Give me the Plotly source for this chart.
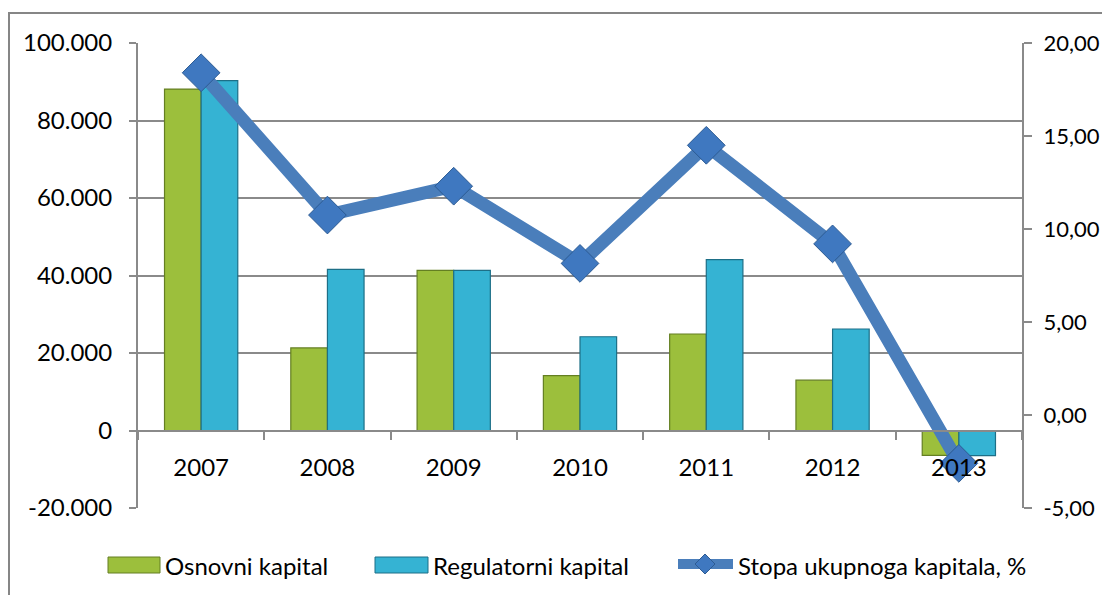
import plotly.graph_objects as go

years = ["2007", "2008", "2009", "2010", "2011", "2012", "2013"]
osnovni = [88100, 21300, 41300, 14150, 24900, 13000, -6400]
regulatorni = [90300, 41600, 41300, 24200, 44100, 26200, -6500]
stopa = [18.4, 10.75, 12.3, 8.15, 14.5, 9.2, -2.6]

left_ticks = [-20000, 0, 20000, 40000, 60000, 80000, 100000]
right_ticks = [-5, 0, 5, 10, 15, 20]

names = ["Osnovni kapital", "Regulatorni kapital", "Stopa ukupnoga kapitala, %"]


def fmt_left(v):
    s = f"{abs(v):,}".replace(",", ".")
    return ("-" if v < 0 else "") + s


def fmt_right(v):
    s = f"{abs(v):.2f}".replace(".", ",")
    return ("-" if v < 0 else "") + s


FONT = "Lato"
FS = 24
GRID = "#8a8a8a"
GREEN, GREEN_EDGE = "#9cbf3c", "#647f22"
CYAN, CYAN_EDGE = "#35b3d3", "#1d6f87"
BLUE, BLUE_MK, BLUE_EDGE = "#4a7ebb", "#3f78c0", "#2c5b93"

# plot area in page pixels (page has 8px body offset)
PX0, PX1, PY_TOP, PY_BOT = 138, 1022, 43, 508


def px(x):
    return (x - PX0) / (PX1 - PX0)


def py(y):
    return (PY_BOT - y) / (PY_BOT - PY_TOP)


fig = go.Figure()
fig.add_trace(go.Bar(
    x=years, y=osnovni, name=names[0],
    marker=dict(color=GREEN, line=dict(color=GREEN_EDGE, width=1.2)),
    yaxis="y",
))
fig.add_trace(go.Bar(
    x=years, y=regulatorni, name=names[1],
    marker=dict(color=CYAN, line=dict(color=CYAN_EDGE, width=1.2)),
    yaxis="y",
))
fig.add_trace(go.Scatter(
    x=years, y=stopa, name=names[2],
    mode="lines+markers",
    line=dict(color=BLUE, width=13),
    marker=dict(symbol="diamond", size=29, color=BLUE_MK,
                line=dict(color=BLUE_EDGE, width=1)),
    yaxis="y2",
))

# custom legend (wide swatches like the original)
LY = 565
shapes = [
    dict(type="rect", xref="paper", yref="paper",
         x0=px(9), x1=px(1125), y0=py(620), y1=py(13),
         line=dict(color="#868686", width=2), fillcolor="rgba(0,0,0,0)", layer="below"),
    dict(type="rect", xref="paper", yref="paper",
         x0=px(108), x1=px(160), y0=py(LY + 8), y1=py(LY - 8),
         line=dict(color=GREEN_EDGE, width=1), fillcolor=GREEN),
    dict(type="rect", xref="paper", yref="paper",
         x0=px(375), x1=px(428), y0=py(LY + 8), y1=py(LY - 8),
         line=dict(color=CYAN_EDGE, width=1), fillcolor=CYAN),
    dict(type="line", xref="paper", yref="paper",
         x0=px(678), x1=px(733), y0=py(LY - 1), y1=py(LY - 1),
         line=dict(color=BLUE, width=10)),
    dict(type="path", xref="paper", yref="paper",
         path=(f"M {px(695)},{py(LY - 1)} L {px(705)},{py(LY - 11)} "
               f"L {px(715)},{py(LY - 1)} L {px(705)},{py(LY + 9)} Z"),
         line=dict(color=BLUE_EDGE, width=1), fillcolor=BLUE_MK),
]
annotations = [
    dict(text=names[0], xref="paper", yref="paper", x=px(163), y=py(LY),
         xanchor="left", yanchor="middle", showarrow=False,
         font=dict(family=FONT, size=FS, color="#000")),
    dict(text=names[1], xref="paper", yref="paper", x=px(431), y=py(LY),
         xanchor="left", yanchor="middle", showarrow=False,
         font=dict(family=FONT, size=FS, color="#000")),
    dict(text=names[2], xref="paper", yref="paper", x=px(736), y=py(LY),
         xanchor="left", yanchor="middle", showarrow=False,
         font=dict(family=FONT, size=FS, color="#000")),
]

fig.update_layout(
    template="none",
    width=1102, height=587,
    margin=dict(l=130, r=88, t=35, b=87, autoexpand=False),
    paper_bgcolor="white", plot_bgcolor="white",
    font=dict(family=FONT, size=FS, color="#000000"),
    barmode="group", bargap=0.42, bargroupgap=0,
    showlegend=False,
    xaxis=dict(
        type="category", anchor="free", position=(77.3 / 465), automargin=False,
        showline=True, linecolor=GRID, linewidth=2,
        ticks="outside", tickson="boundaries", ticklen=8, tickcolor=GRID, tickwidth=2,
        showgrid=False, zeroline=False, ticklabelstandoff=15,
        tickfont=dict(family=FONT, size=FS),
    ),
    yaxis=dict(
        range=[-20000, 100000], tickvals=left_ticks, automargin=False,
        ticktext=[fmt_left(v) for v in left_ticks],
        showline=True, linecolor=GRID, linewidth=2,
        ticks="outside", ticklen=7, tickcolor=GRID, tickwidth=2,
        showgrid=True, gridcolor=GRID, gridwidth=2, zeroline=False,
        ticklabelstandoff=12, tickfont=dict(family=FONT, size=FS),
    ),
    yaxis2=dict(
        range=[-5, 20], tickvals=right_ticks, automargin=False,
        ticktext=[fmt_right(v) for v in right_ticks],
        overlaying="y", side="right",
        showline=True, linecolor=GRID, linewidth=2,
        ticks="outside", ticklen=8, tickcolor=GRID, tickwidth=2,
        showgrid=False, zeroline=False,
        ticklabelstandoff=7, tickfont=dict(family=FONT, size=22),
    ),
    shapes=shapes,
    annotations=annotations,
)

fig.write_html("out.html")
